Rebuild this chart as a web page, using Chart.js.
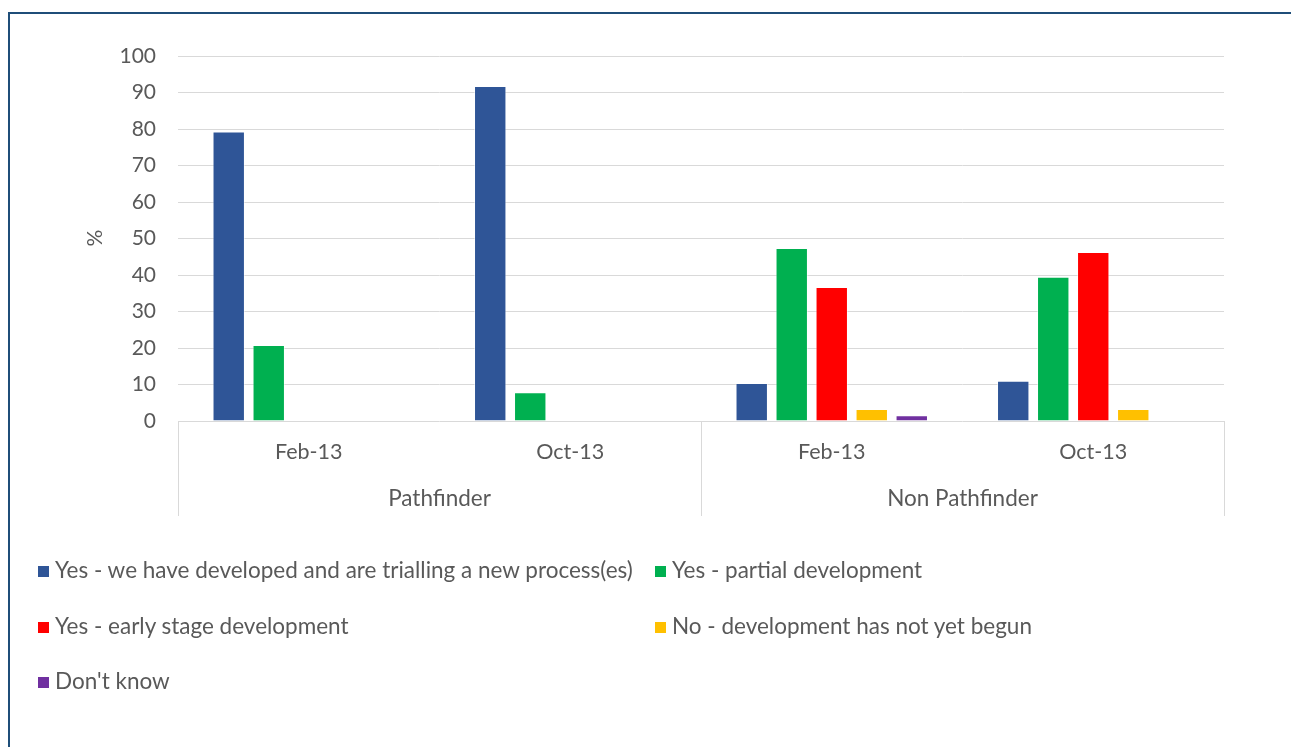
<!DOCTYPE html>
<html>
<head>
<meta charset="utf-8">
<script src="https://cdn.jsdelivr.net/npm/chart.js@4"></script>
<style>
  html, body { margin: 0; padding: 0; background: #fff; overflow: hidden; }
  #wrap { position: relative; width: 1291px; height: 747px; }
  #frame { position: absolute; left: 8px; top: 12px; width: 1300px; height: 800px;
           border: 2px solid #1f4e79; box-sizing: border-box; }
  canvas { position: absolute; left: 0; top: 0; }
  .leg { position: absolute; font-family: Lato, sans-serif; font-size: 22.5px; color: #595959;
         white-space: nowrap; line-height: 26px; }
  .leg i { display: inline-block; width: 11px; height: 11px; margin-right: 6px; vertical-align: 1px; }
</style>
</head>
<body>
<div id="wrap">
  <div id="frame"></div>
  <canvas id="c" width="1291" height="747"></canvas>
  <div id="legend"></div>
</div>
<script>
const categories = ["Feb-13", "Oct-13", "Feb-13", "Oct-13"];
const groups = ["Pathfinder", "Non Pathfinder"];
const seriesNames = [
  "Yes - we have developed and are trialling a new process(es)",
  "Yes - partial development",
  "Yes - early stage development",
  "No - development has not yet begun",
  "Don't know"
];
const developedTrialling = [79.3, 91.8, 10.4, 11.0];
const partialDevelopment = [20.8, 7.9, 47.4, 39.5];
const earlyStage = [0, 0, 36.7, 46.3];
const notBegun = [0, 0, 3.3, 3.3];
const dontKnow = [0, 0, 1.6, 0];
const colors = ["#2f5597", "#00b050", "#ff0000", "#ffc000", "#7030a0"];
const yTicks = [0, 10, 20, 30, 40, 50, 60, 70, 80, 90, 100];

const seriesData = [developedTrialling, partialDevelopment, earlyStage, notBegun, dontKnow];
const textColor = "#595959";
const font = "Lato, sans-serif";

// Two-level category axis and the "%" title, drawn by hand
const groupAxis = {
  id: "groupAxis",
  afterDraw(chart) {
    const { ctx, chartArea, scales } = chart;
    const x = scales.x;
    const base = chartArea.bottom;
    const step = (chartArea.right - chartArea.left) / categories.length;
    ctx.save();
    ctx.strokeStyle = "#d9d9d9";
    ctx.lineWidth = 1;
    [0, 2, 4].forEach(i => {
      const px = Math.round(chartArea.left + i * step) + 0.5;
      ctx.beginPath();
      ctx.moveTo(px, base);
      ctx.lineTo(px, base + 95);
      ctx.stroke();
    });
    ctx.fillStyle = textColor;
    ctx.font = "21.5px " + font;
    ctx.textAlign = "center";
    ctx.textBaseline = "middle";
    categories.forEach((c, i) => ctx.fillText(c, x.getPixelForValue(i), base + 31));
    ctx.font = "22.5px " + font;
    groups.forEach((g, i) => {
      const cx = (x.getPixelForValue(i * 2) + x.getPixelForValue(i * 2 + 1)) / 2;
      ctx.fillText(g, cx, base + 78);
    });
    ctx.translate(95, 238);
    ctx.rotate(-Math.PI / 2);
    ctx.font = "21px " + font;
    ctx.fillText("%", 0, 0);
    ctx.restore();
  }
};

new Chart(document.getElementById("c"), {
  type: "bar",
  data: {
    labels: categories,
    datasets: seriesNames.map((name, i) => ({
      label: name,
      data: seriesData[i],
      backgroundColor: colors[i],
      borderColor: "rgba(255,255,255,0.5)",
      borderWidth: 1,
      barPercentage: 0.81,
      categoryPercentage: 0.765
    }))
  },
  options: {
    responsive: false,
    animation: false,
    layout: { padding: { left: 0, top: 56, right: 67, bottom: 326 } },
    plugins: { legend: { display: false }, tooltip: { enabled: false } },
    scales: {
      x: { display: false },
      y: {
        min: 0, max: 100,
        afterBuildTicks: s => { s.ticks = yTicks.map(v => ({ value: v })); },
        afterFit: s => { s.width = 178; },
        border: { display: false },
        grid: { color: "#d9d9d9", drawTicks: false },
        ticks: { color: textColor, font: { family: font, size: 21 }, padding: 22 }
      }
    }
  },
  plugins: [groupAxis]
});

// legend in two columns like the original
const legend = document.getElementById("legend");
const cols = [38, 655];
const rows = [570, 626, 681];
seriesNames.forEach((name, i) => {
  const d = document.createElement("div");
  d.className = "leg";
  d.style.left = cols[i % 2] + "px";
  d.style.top = (rows[Math.floor(i / 2)] - 13) + "px";
  d.innerHTML = '<i style="background:' + colors[i] + '"></i>' + name;
  legend.appendChild(d);
});
</script>
</body>
</html>
